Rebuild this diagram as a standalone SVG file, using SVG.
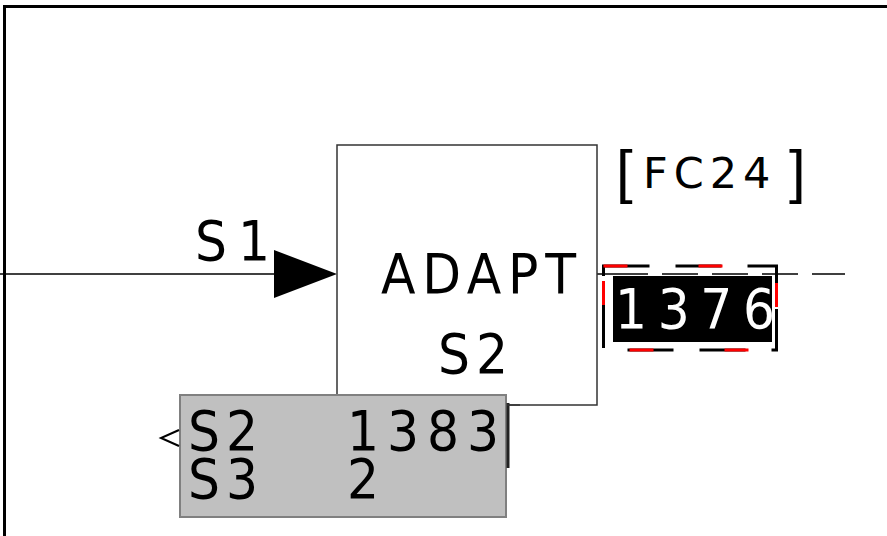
<svg xmlns="http://www.w3.org/2000/svg" width="887" height="536" viewBox="0 0 887 536">
<defs>
<style>
.t{font-family:"DejaVu Sans Condensed","DejaVu Sans",Verdana,sans-serif;font-stretch:condensed;font-size:56px;fill:#000}
.sm{font-family:"DejaVu Sans",Verdana,sans-serif;font-stretch:normal;font-size:43px}
.br{font-family:"Liberation Sans",Arial,sans-serif;font-size:60px}
.w{fill:#fff}
.ln{stroke:#000;stroke-width:1.5;fill:none}
</style>
</defs>
<rect x="0" y="0" width="887" height="536" fill="#fff"/>
<g id="frame">
<line x1="3" y1="6.5" x2="887" y2="6.5" stroke="#000" stroke-width="3"/>
<line x1="4.5" y1="5" x2="4.5" y2="536" stroke="#000" stroke-width="3"/>
</g>
<g id="connectors">
<line class="ln" x1="0" y1="274" x2="280" y2="274"/>
<polygon points="274,250 337,274 274,298" fill="#000"/>
<line class="ln" x1="597" y1="274" x2="612" y2="274"/>
<line x1="612" y1="274" x2="845" y2="274" stroke="#000" stroke-width="1.5" stroke-dasharray="36 14"/>
</g>
<g id="adapt">
<rect x="337" y="145" width="260" height="260" fill="#fff" stroke="#333" stroke-width="1.5"/>
<text class="t" x="381" y="293" textLength="195" lengthAdjust="spacing">ADAPT</text>
<text class="t" x="438" y="373" textLength="70" lengthAdjust="spacing">S2</text>
</g>
<g id="label-s1">
<text class="t" x="195" y="260" textLength="75" lengthAdjust="spacing">S1</text>
</g>
<g id="label-fc24">
<text class="t sm" y="188"><tspan class="br" x="616" y="192">[</tspan><tspan x="643" y="188" letter-spacing="6">FC24</tspan><tspan class="br" x="789" y="192">]</tspan></text>
</g>
<g id="value-1376">
<rect x="613" y="276" width="159" height="66" fill="#000"/>
<text class="t w" x="615" y="328" textLength="160" lengthAdjust="spacing">1376</text>
<rect x="603.5" y="266" width="173" height="84" fill="none" stroke="#000" stroke-width="3" stroke-dasharray="46 26"/>
<rect x="603.5" y="266" width="173" height="84" fill="none" stroke="#f00" stroke-width="3" stroke-dasharray="24 71"/>
</g>
<g id="info">
<rect x="180" y="395" width="326" height="122" fill="#c0c0c0" stroke="#808080" stroke-width="2"/>
<line x1="508" y1="403" x2="508" y2="468" stroke="#222" stroke-width="3"/>
<line x1="507" y1="405" x2="520" y2="405" stroke="#333" stroke-width="1.5"/>
<polyline points="179,430 161,438 179,446" fill="none" stroke="#000" stroke-width="2"/>
<text class="t" x="188" y="450" textLength="70" lengthAdjust="spacing">S2</text>
<text class="t" x="347" y="450" textLength="152" lengthAdjust="spacing">1383</text>
<text class="t" x="188" y="498" textLength="70" lengthAdjust="spacing">S3</text>
<text class="t" x="347" y="498">2</text>
</g>
</svg>
